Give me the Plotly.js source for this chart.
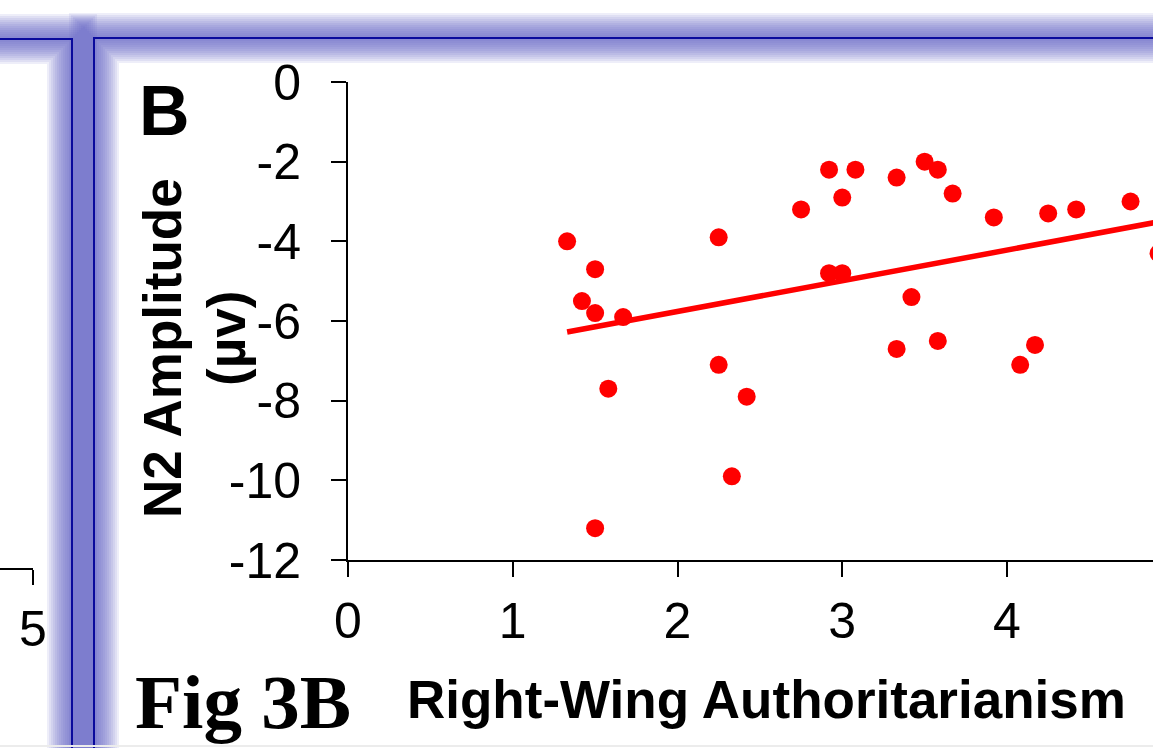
<!DOCTYPE html>
<html>
<head>
<meta charset="utf-8">
<script src="https://cdn.plot.ly/plotly-3.0.1.min.js"></script>
<style>
  html, body { margin: 0; padding: 0; background: #ffffff; }
  #chart { width: 1153px; height: 748px; }
</style>
</head>
<body>
<div id="chart"></div>
<script>
// Right-wing authoritarianism score vs N2 amplitude, one point per participant
const rwa = [1.33, 1.50, 1.42, 1.50, 1.67, 1.58, 1.50, 2.25, 2.25, 2.42, 2.33,
             2.75, 2.92, 3.00, 3.08, 2.92, 3.00, 3.33, 3.50, 3.58, 3.67, 3.42,
             3.33, 3.58, 3.92, 4.25, 4.42, 4.75, 4.08, 4.17, 4.92];
const n2Amplitude = [-4.0, -4.7, -5.5, -5.8, -5.9, -7.7, -11.2, -3.9, -7.1, -7.9, -9.9,
                     -3.2, -2.2, -2.9, -2.2, -4.8, -4.8, -2.4, -2.0, -2.2, -2.8, -5.4,
                     -6.7, -6.5, -3.4, -3.3, -3.2, -3.0, -7.1, -6.6, -4.3];

// Least-squares line drawn across the range of the scores
const fitIntercept = -7.30;
const fitSlope = 0.77;

const xTickVals = [0, 1, 2, 3, 4, 5];
const xTickText = ['0', '1', '2', '3', '4', '5'];
const yTickVals = [0, -2, -4, -6, -8, -10, -12];
const yTickText = ['0', '-2', '-4', '-6', '-8', '-10', '-12'];

// Neighbouring panel (A) axis end
const panelATickVals = [5];
const panelATickText = ['5'];

const W = 1153, H = 748;
const px = v => v / W;          // pixel -> paper x
const py = v => 1 - v / H;      // pixel -> paper y

const fitX = [Math.min(...rwa), Math.max(...rwa)];
const fitY = fitX.map(x => fitIntercept + fitSlope * x);

const SANS = 'Liberation Sans, Arial, sans-serif';
const SERIF = 'Liberation Serif, Times New Roman, serif';

const traces = [
  {
    type: 'scatter', mode: 'lines', x: fitX, y: fitY,
    line: { color: '#ff0000', width: 5.5 },
    xaxis: 'x', yaxis: 'y', hoverinfo: 'skip', showlegend: false
  },
  {
    type: 'scatter', mode: 'markers', x: rwa, y: n2Amplitude,
    marker: { color: '#ff0000', size: 18, line: { width: 0 } },
    xaxis: 'x', yaxis: 'y', showlegend: false
  },
  {
    type: 'scatter', mode: 'markers', x: [], y: [],
    xaxis: 'x2', yaxis: 'y2', showlegend: false, hoverinfo: 'skip'
  }
];

// Soft blue slide frames: many thin translucent outlines stacked into a glow
const glowColor = 'rgb(100,100,200)';
const glowWidths = [];
for (let w = 50; w >= 4; w -= 4) glowWidths.push(w);
const frames = [
  { x0: px(-60), y0: py(39), x1: px(72), y1: py(820) },   // left panel
  { x0: px(94), y0: py(38), x1: px(1220), y1: py(820) }   // right panel
];
const shapes = [];
frames.forEach(f => {
  glowWidths.forEach(w => {
    shapes.push({
      type: 'rect', xref: 'paper', yref: 'paper', layer: 'below',
      x0: f.x0, y0: f.y0, x1: f.x1, y1: f.y1,
      line: { color: glowColor, width: w }, fillcolor: 'rgba(0,0,0,0)', opacity: 0.1
    });
  });
});
frames.forEach(f => {
  shapes.push({
    type: 'rect', xref: 'paper', yref: 'paper', layer: 'below',
    x0: f.x0, y0: f.y0, x1: f.x1, y1: f.y1,
    line: { color: '#0a0a9c', width: 2 }, fillcolor: 'rgba(0,0,0,0)'
  });
});
shapes.push({
  type: 'line', xref: 'paper', yref: 'paper', layer: 'below',
  x0: 0, x1: 1, y0: py(746), y1: py(746),
  line: { color: '#ececec', width: 2 }
});

const axisCommon = {
  showline: true, linecolor: '#000', linewidth: 2,
  ticks: 'outside', ticklen: 15, tickwidth: 2, tickcolor: '#000',
  showgrid: false, zeroline: false, fixedrange: true,
  tickfont: { family: SANS, size: 50, color: '#000' }
};

const layout = {
  width: W, height: H,
  margin: { l: 0, r: 0, t: 0, b: 0, pad: 0 },
  paper_bgcolor: '#ffffff', plot_bgcolor: 'rgba(0,0,0,0)',
  showlegend: false,
  xaxis: Object.assign({}, axisCommon, {
    domain: [px(348), 1], anchor: 'y',
    range: [0, 805 / 164.75],
    tickmode: 'array', tickvals: xTickVals, ticktext: xTickText,
    ticklabelstandoff: 1
  }),
  yaxis: Object.assign({}, axisCommon, {
    domain: [py(560), py(82)], anchor: 'x',
    range: [-12, 0],
    tickmode: 'array', tickvals: yTickVals, ticktext: yTickText,
    ticklabelstandoff: 20
  }),
  xaxis2: Object.assign({}, axisCommon, {
    domain: [0, px(33)], anchor: 'y2',
    range: [4, 5],
    tickmode: 'array', tickvals: panelATickVals, ticktext: panelATickText,
    ticklabelstandoff: 1
  }),
  yaxis2: {
    domain: [py(568), py(300)], anchor: 'x2', visible: false,
    range: [0, 1], fixedrange: true
  },
  shapes: shapes,
  annotations: [
    {
      text: '<b>B</b>', xref: 'paper', yref: 'paper',
      x: px(164), y: py(111), xanchor: 'center', yanchor: 'middle',
      showarrow: false, font: { family: SANS, size: 70, color: '#000' }
    },
    {
      text: '<b>N2 Amplitude</b>', xref: 'paper', yref: 'paper', textangle: -90,
      x: px(162), y: py(348), xanchor: 'center', yanchor: 'middle',
      showarrow: false, font: { family: SANS, size: 53, color: '#000' }
    },
    {
      text: '<b>(µv)</b>', xref: 'paper', yref: 'paper', textangle: -90,
      x: px(227), y: py(339), xanchor: 'center', yanchor: 'middle',
      showarrow: false, font: { family: SANS, size: 53, color: '#000' }
    },
    {
      text: '<b>Right-Wing Authoritarianism</b>', xref: 'paper', yref: 'paper',
      x: px(766), y: py(699), xanchor: 'center', yanchor: 'middle',
      showarrow: false, font: { family: SANS, size: 53, color: '#000' }
    },
    {
      text: '<b>Fig 3B</b>', xref: 'paper', yref: 'paper',
      x: px(133), y: py(702), xanchor: 'left', yanchor: 'middle',
      showarrow: false, font: { family: SERIF, size: 77, color: '#000' }
    }
  ]
};

Plotly.newPlot('chart', traces, layout, { staticPlot: true, displayModeBar: false });
</script>
</body>
</html>
